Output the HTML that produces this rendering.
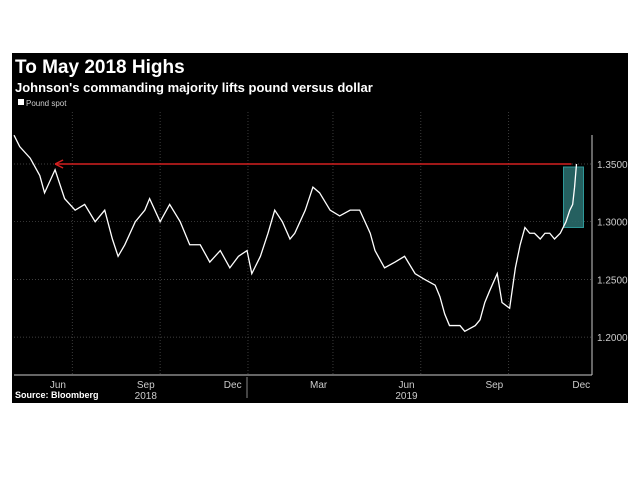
<!DOCTYPE html>
<html><head><meta charset="utf-8"><style>
body{margin:0;background:#fff;width:640px;height:480px;overflow:hidden;font-family:"Liberation Sans",sans-serif}
#panel{position:absolute;left:12px;top:53px;width:616px;height:350px;background:#000}
</style></head><body>
<div id="panel"></div>
<svg id="c" width="640" height="480" style="position:absolute;left:0;top:0">
<text x="15" y="73" fill="#fff" font-size="19" font-weight="bold">To May 2018 Highs</text>
<text x="15" y="92" fill="#fff" font-size="13" font-weight="bold">Johnson's commanding majority lifts pound versus dollar</text>
<rect x="18" y="99" width="6" height="6" fill="#fff"/>
<text x="26" y="106" fill="#ccc" font-size="8">Pound spot</text>
<text x="15" y="398" fill="#fff" font-size="9" font-weight="bold">Source: Bloomberg</text>
<g id="g"></g>
</svg>
<script>
const days=[0,6,17,27,32,43,53,64,74,85,95,103,109,116,127,137,142,153,163,174,184,195,205,216,226,235,244,249,258,266,273,281,289,294,305,313,320,331,341,352,362,373,378,388,399,409,420,430,441,446,451,456,467,472,483,488,493,498,506,511,519,525,530,535,540,545,551,556,561,566,572,578,582,585,587,589];
const prices=[1.375,1.365,1.355,1.34,1.325,1.345,1.32,1.31,1.315,1.30,1.31,1.285,1.27,1.28,1.30,1.31,1.32,1.30,1.315,1.30,1.28,1.28,1.265,1.275,1.26,1.27,1.275,1.255,1.27,1.29,1.31,1.30,1.285,1.29,1.31,1.33,1.325,1.31,1.305,1.31,1.31,1.29,1.275,1.26,1.265,1.27,1.255,1.25,1.245,1.235,1.22,1.21,1.21,1.205,1.21,1.215,1.23,1.24,1.255,1.23,1.225,1.26,1.28,1.295,1.29,1.29,1.285,1.29,1.29,1.285,1.29,1.30,1.31,1.315,1.33,1.35];
const yTicks=[1.35,1.30,1.25,1.20];
const yLabels=["1.3500","1.3000","1.2500","1.2000"];
const monthLabels=["Jun","Sep","Dec","Mar","Jun","Sep","Dec"];
const monthDays=[46,138,229,319,411,503,594];
const gridDays=[61,153,245,334,426,518];
const years=["2018","2019"];
const yearDays=[138,411];
const mayHigh=1.35;
const X=d=>14+d*0.955, Y=p=>164+(1.35-p)/0.05*57.7;
const g=document.getElementById('g'),NS='http://www.w3.org/2000/svg';
function mk(t,a,txt){const e=document.createElementNS(NS,t);for(const k in a)e.setAttribute(k,a[k]);if(txt)e.textContent=txt;g.appendChild(e);return e;}
gridDays.forEach(d=>{const e=mk('line',{x1:X(d),x2:X(d),y1:112,y2:375,stroke:'#555','stroke-dasharray':'1,2','stroke-width':0.7});

});
yTicks.forEach((p,i)=>{const e=mk('line',{x1:14,x2:592,y1:Y(p),y2:Y(p),stroke:'#555','stroke-dasharray':'1,2','stroke-width':0.7});


const t=mk('text',{x:597,y:Y(p)+4,fill:'#ccc','font-size':10},yLabels[i]);

});
let a=mk('line',{x1:592,x2:592,y1:135,y2:375,stroke:'#ccc'});


a=mk('line',{x1:14,x2:592,y1:375,y2:375,stroke:'#ccc'});


monthLabels.forEach((m,i)=>{const t=mk('text',{x:X(monthDays[i]),y:388,fill:'#ccc','font-size':10,'text-anchor':'middle'},m);

});
years.forEach((y,i)=>{const t=mk('text',{x:X(yearDays[i]),y:385+14,fill:'#ccc','font-size':10,'text-anchor':'middle'},y);

});
a=mk('line',{x1:247,x2:247,y1:377,y2:398,stroke:'#888'});


const bx=X(days[days.length-1])-13;
a=mk('rect',{x:bx,y:Y(mayHigh)+3,width:20,height:Y(1.295)-Y(mayHigh)-3,fill:'#2a6b6b',stroke:'#3aa',opacity:0.9});


a=mk('line',{x1:X(43),x2:bx+8,y1:Y(mayHigh),y2:Y(mayHigh),stroke:'#d42020','stroke-width':1.5});


a=mk('path',{d:`M${X(43)} ${Y(mayHigh)} l8 -4 M${X(43)} ${Y(mayHigh)} l8 4`,stroke:'#d42020','stroke-width':1.5,fill:'none'});


a=mk('polyline',{points:days.map((d,i)=>X(d)+','+Y(prices[i])).join(' '),fill:'none',stroke:'#fff','stroke-width':1.3});


</script>
</body></html>
